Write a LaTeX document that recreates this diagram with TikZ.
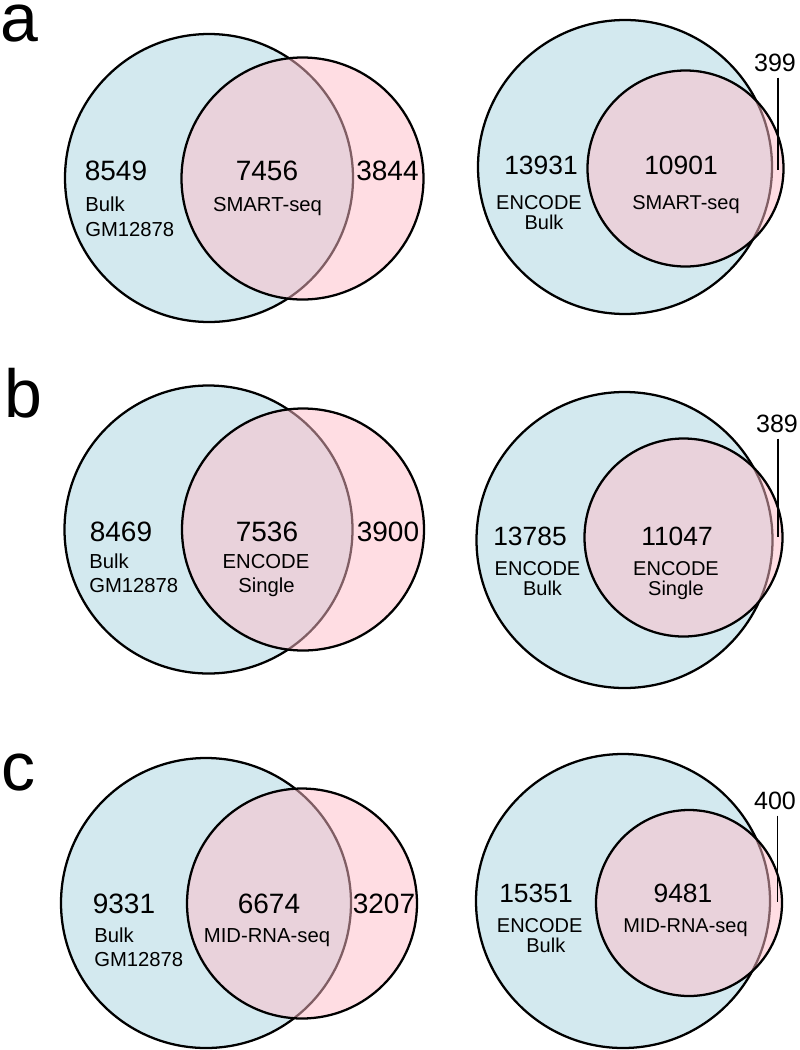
\documentclass[tikz,border=0pt]{standalone}
\usepackage{fontspec}
\setmainfont{Liberation Sans}
\definecolor{bluefill}{RGB}{211,233,239}
\definecolor{pinkfill}{RGB}{255,188,200}
\tikzset{
  bluec/.style={fill=bluefill,draw=black,line width=1.7pt},
  pinkc/.style={fill=pinkfill,fill opacity=0.5,draw=none},
  pinko/.style={draw=black,line width=1.7pt},
  bignum/.style={inner sep=0pt,anchor=base,font=\fontsize{21}{24}\selectfont},
  rnum/.style={inner sep=0pt,anchor=base,font=\fontsize{19.8}{24}\selectfont},
  snum/.style={inner sep=0pt,anchor=base,font=\fontsize{18.8}{22}\selectfont},
  lbl/.style={inner sep=0pt,anchor=base west,font=\fontsize{15.2}{18.2}\selectfont},
  clbl/.style={inner sep=0pt,anchor=base,font=\fontsize{15.2}{18.2}\selectfont},
  rlbl/.style={inner sep=0pt,anchor=base,font=\fontsize{15}{15}\selectfont},
  panel/.style={inner sep=0pt,anchor=base west,font=\fontsize{51}{60}\selectfont},
  panelx/.style={panel,text height=0.55em},
  leader/.style={draw=black,line width=1.1pt}
}
\begin{document}
\begin{tikzpicture}[x=0.75pt,y=-0.75pt]
\useasboundingbox (0,0) rectangle (800,1050);
% ---------------- panel a ----------------
\node[panelx] (la) at (0,41) {a};
\draw[bluec] (209,178) circle (108pt);
\fill[pinkc] (302.5,178.5) circle (90.75pt);
\draw[pinko] (302.5,178.5) circle (90.75pt);
\node[bignum] (a1) at (116,180) {8549};
\node[lbl] (a1l) at (85,211) {Bulk};
\node[lbl] (a1m) at (85,236.5) {GM12878};
\node[bignum] (a2) at (267,180) {7456};
\node[clbl] (a2l) at (267.5,211) {SMART-seq};
\node[bignum] (a3) at (387.5,180) {3844};

\draw[bluec] (625,167) circle (110.25pt);
\fill[pinkc] (685.5,168.5) circle (73.5pt);
\draw[pinko] (685.5,168.5) circle (73.5pt);
\node[snum] (a6) at (775,71) {399};
\coordinate (a6e) at (778,170);
\draw[leader] (a6.south) ++(3,6) -- (a6e);
\node[rnum] (a4) at (541,174.5) {13931};
\node[rlbl] (a4l) at (539,209) {ENCODE};
\node[rlbl] (a4m) at (544,229) {Bulk};
\node[rnum] (a5) at (681,174.5) {10901};
\node[rlbl] (a5l) at (686,209) {SMART-seq};

% ---------------- panel b ----------------
\node[panel] (lb) at (4,417) {b};
\draw[bluec] (208.5,529.5) circle (108pt);
\fill[pinkc] (303,529.5) circle (90.75pt);
\draw[pinko] (303,529.5) circle (90.75pt);
\node[bignum] (b1) at (121,541) {8469};
\node[lbl] (b1l) at (89,568) {Bulk};
\node[lbl] (b1m) at (89,592) {GM12878};
\node[bignum] (b2) at (267,541) {7536};
\node[clbl] (b2l) at (266,568) {ENCODE};
\node[clbl] (b2m) at (266.5,592) {Single};
\node[bignum] (b3) at (388,541) {3900};

\draw[bluec] (624.5,540) circle (111pt);
\fill[pinkc] (683.5,537.5) circle (74.25pt);
\draw[pinko] (683.5,537.5) circle (74.25pt);
\node[snum] (b6) at (777,432) {389};
\coordinate (b6e) at (778,537);
\draw[leader] (b6.south) ++(1,6) -- (b6e);
\node[rnum] (b4) at (530,545.5) {13785};
\node[rlbl] (b4l) at (537.5,575) {ENCODE};
\node[rlbl] (b4m) at (542.5,595.5) {Bulk};
\node[rnum] (b5) at (677,545.5) {11047};
\node[rlbl] (b5l) at (676,575) {ENCODE};
\node[rlbl] (b5m) at (676,595.5) {Single};

% ---------------- panel c ----------------
\node[panel] (lc) at (1,790) {c};
\draw[bluec] (206,903) circle (108.75pt);
\fill[pinkc] (302,903.5) circle (86.25pt);
\draw[pinko] (302,903.5) circle (86.25pt);
\node[bignum] (c1) at (124,913) {9331};
\node[lbl] (c1l) at (94,942) {Bulk};
\node[lbl] (c1m) at (94,966.5) {GM12878};
\node[bignum] (c2) at (269,913) {6674};
\node[clbl] (c2l) at (267,942) {MID-RNA-seq};
\node[bignum] (c3) at (384,913) {3207};

\draw[bluec] (623,901) circle (110.25pt);
\fill[pinkc] (689,903) circle (69.75pt);
\draw[pinko] (689,903) circle (69.75pt);
\node[snum] (c6) at (775,809) {400};
\coordinate (c6e) at (777.5,902);
\draw[leader] (c6.south) ++(2.5,6) -- (c6e);
\node[rnum] (c4) at (536,902.5) {15351};
\node[rlbl] (c4l) at (539.7,932) {ENCODE};
\node[rlbl] (c4m) at (545.8,952) {Bulk};
\node[rnum] (c5) at (683,902.5) {9481};
\node[rlbl] (c5l) at (685.5,932) {MID-RNA-seq};
\end{tikzpicture}
\end{document}
